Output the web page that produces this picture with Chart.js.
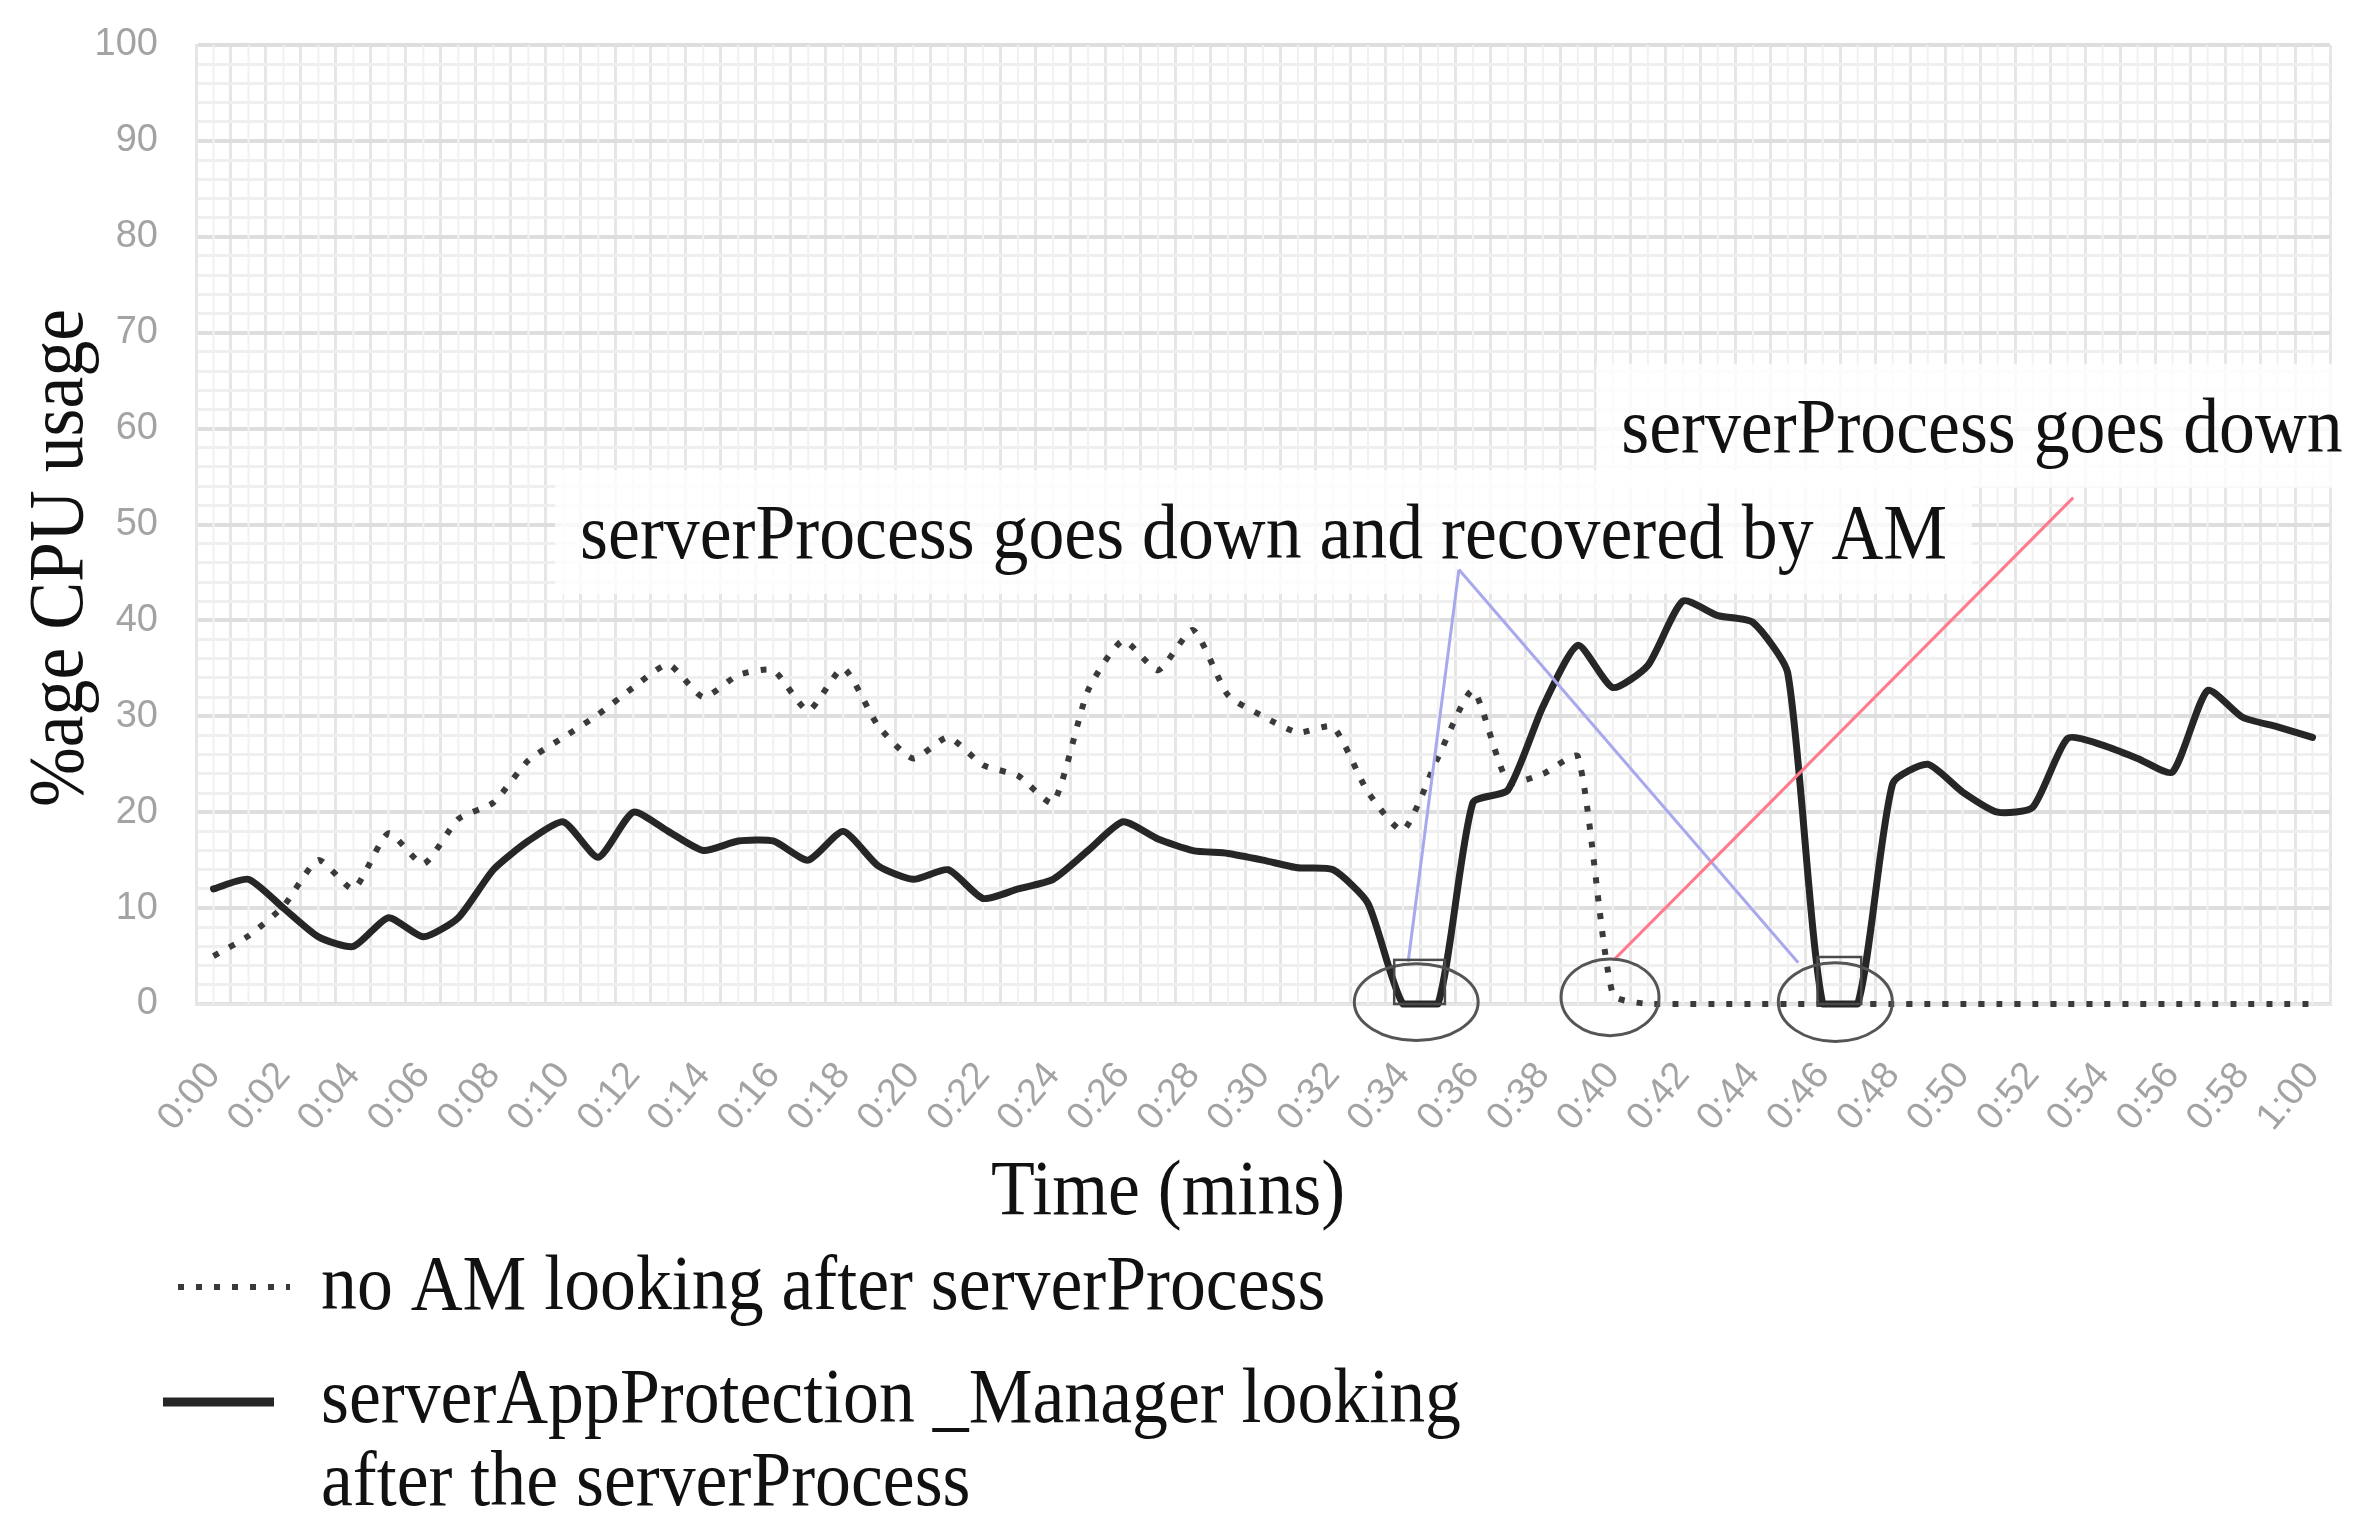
<!DOCTYPE html>
<html>
<head>
<meta charset="utf-8">
<script src="https://cdn.jsdelivr.net/npm/chart.js@4.4.0/dist/chart.umd.min.js"></script>
<style>
  html, body { margin: 0; padding: 0; background: #fff; overflow: hidden; }
  #wrap { width: 2364px; height: 1539px; position: relative; }
</style>
</head>
<body>
<div id="wrap"><canvas id="cpuChart"></canvas></div>
<script>
// ── DATA ──
const minutes = [
  '0:00','0:01','0:02','0:03','0:04','0:05','0:06','0:07','0:08','0:09',
  '0:10','0:11','0:12','0:13','0:14','0:15','0:16','0:17','0:18','0:19',
  '0:20','0:21','0:22','0:23','0:24','0:25','0:26','0:27','0:28','0:29',
  '0:30','0:31','0:32','0:33','0:34','0:35','0:36','0:37','0:38','0:39',
  '0:40','0:41','0:42','0:43','0:44','0:45','0:46','0:47','0:48','0:49',
  '0:50','0:51','0:52','0:53','0:54','0:55','0:56','0:57','0:58','0:59','1:00'
];

// serverAppProtection_Manager looking after the serverProcess (solid)
const amCpu = [
  12, 13, 10, 7, 6, 9, 7, 9, 14, 17,
  19, 15.3, 20, 18, 16, 17, 17, 15, 18, 14.4,
  13, 14, 11, 12, 13, 16, 19, 17.2, 16, 15.7,
  15, 14.2, 14, 10.5, 0, 0, 21, 22.3, 31, 37.4,
  33, 35.3, 42, 40.5, 39.8, 34.5, 0, 0, 23, 25,
  22.1, 20, 20.5, 27.7, 27, 25.6, 24.2, 32.7, 29.9, 28.9, 27.8
];

// no AM looking after serverProcess (dotted)
const noAmCpu = [
  5, 7.1, 10.2, 15, 12, 17.8, 14.6, 19.3, 21, 25.4,
  27.8, 30.2, 33, 35.4, 32, 34.3, 34.8, 30.6, 35, 29,
  25.6, 27.8, 24.9, 23.8, 21, 32.7, 37.9, 34.8, 39, 32.2,
  30, 28.3, 28.9, 22.1, 18.1, 25.7, 32.7, 23.2, 24, 25.8,
  1, 0, 0, 0, 0, 0, 0, 0, 0, 0,
  0, 0, 0, 0, 0, 0, 0, 0, 0, 0, 0
];

const yMin = 0, yMax = 100, yStep = 2, yLabelStep = 10;
const labelEvery = 2;

const xTitle = 'Time (mins)';
const yTitle = '%age CPU usage';
const legendNoAm = 'no AM looking after serverProcess';
const legendAm = ['serverAppProtection _Manager looking', 'after the serverProcess'];

// ── ANNOTATIONS (chart units: x = minute index, y = % CPU) ──
const notes = [
  { text: 'serverProcess goes down and recovered by AM', x: 10.48, y: 46.5 },
  { text: 'serverProcess goes down', x: 40.24, y: 57.6 }
];
const blueFrom = { x: 35.6, y: 45.3 };
const blueTo = [{ x: 34.15, y: 4.4 }, { x: 45.3, y: 4.3 }];
const redLine = [{ x: 40.03, y: 4.6 }, { x: 53.16, y: 52.8 }];
const rings = [
  { x: 34.38, y: 0.2, rx: 1.77, ry: 4.0 },
  { x: 39.92, y: 0.7, rx: 1.4, ry: 4.0 },
  { x: 46.36, y: 0.2, rx: 1.63, ry: 4.1 }
];
const boxes = [
  { x0: 33.75, x1: 35.2, y0: 0, y1: 4.6 },
  { x0: 45.85, x1: 47.1, y0: 0, y1: 4.9 }
];

// ── HELPERS ──
const SERIF = "'Liberation Serif', 'Times New Roman', serif";
const SQUEEZE = 0.92;

function squeezedText(ctx, str, x, y, align, rot) {
    ctx.save();
    ctx.translate(x, y);
    if (rot) ctx.rotate(rot);
    ctx.scale(SQUEEZE, 1);
    ctx.textAlign = align;
    ctx.textBaseline = 'alphabetic';
    ctx.fillText(str, 0, 0);
    ctx.restore();
}

const extras = {
    id: 'extras',
    beforeDatasetsDraw(chart) {
        // faint mid-category lines, graph paper look
        const { ctx, chartArea: a, scales: { x } } = chart;
        ctx.save();
        ctx.strokeStyle = '#f1f1f1';
        ctx.lineWidth = 2;
        minutes.forEach((m, i) => {
            const px = x.getPixelForValue(i);
            ctx.beginPath();
            ctx.moveTo(px, a.top);
            ctx.lineTo(px, a.bottom);
            ctx.stroke();
        });
        ctx.restore();
    },
    afterDatasetsDraw(chart) {
        const { ctx, scales: { x, y } } = chart;
        const P = p => [x.getPixelForValue(p.x), y.getPixelForValue(p.y)];
        const unitX = x.getPixelForValue(1) - x.getPixelForValue(0);
        const unitY = y.getPixelForValue(0) - y.getPixelForValue(1);

        ctx.save();
        ctx.font = '78px ' + SERIF;

        // text backdrops
        notes.forEach(n => {
            const [px, py] = P(n);
            const w = ctx.measureText(n.text).width * SQUEEZE;
            ctx.fillStyle = 'rgba(255,255,255,0.78)';
            ctx.fillRect(px - 25, py - 88, w + 50, 124);
        });

        // pointer lines
        ctx.lineWidth = 3;
        ctx.strokeStyle = 'rgb(168,168,236)';
        blueTo.forEach(t => {
            ctx.beginPath();
            ctx.moveTo(...P(blueFrom));
            ctx.lineTo(...P(t));
            ctx.stroke();
        });
        ctx.strokeStyle = 'rgb(255,122,140)';
        ctx.beginPath();
        ctx.moveTo(...P(redLine[0]));
        ctx.lineTo(...P(redLine[1]));
        ctx.stroke();

        // rings
        ctx.strokeStyle = '#555';
        ctx.lineWidth = 3;
        rings.forEach(r => {
            const [cx, cy] = P(r);
            ctx.beginPath();
            ctx.ellipse(cx, cy, r.rx * unitX, r.ry * unitY, 0, 0, Math.PI * 2);
            ctx.stroke();
        });

        // small boxes
        ctx.strokeStyle = '#4a4a4a';
        ctx.lineWidth = 2.5;
        boxes.forEach(b => {
            const [x0, y0] = P({ x: b.x0, y: b.y1 });
            const [x1, y1] = P({ x: b.x1, y: b.y0 });
            ctx.strokeRect(x0, y0, x1 - x0, y1 - y0);
        });

        // note text
        ctx.fillStyle = '#111';
        notes.forEach(n => {
            const [px, py] = P(n);
            squeezedText(ctx, n.text, px, py, 'left');
        });
        ctx.restore();
    },
    afterDraw(chart) {
        const { ctx } = chart;
        ctx.save();
        ctx.fillStyle = '#111';
        ctx.font = '78px ' + SERIF;

        // axis titles
        squeezedText(ctx, xTitle, 1168, 1214, 'center');
        squeezedText(ctx, yTitle, 82, 558, 'center', -Math.PI / 2);

        // legend
        squeezedText(ctx, legendNoAm, 321, 1309, 'left');
        squeezedText(ctx, legendAm[0], 321, 1422, 'left');
        squeezedText(ctx, legendAm[1], 321, 1505, 'left');

        ctx.strokeStyle = '#3a3a3a';
        ctx.lineWidth = 6;
        ctx.setLineDash([6, 12]);
        ctx.beginPath();
        ctx.moveTo(178, 1287);
        ctx.lineTo(290, 1287);
        ctx.stroke();

        ctx.setLineDash([]);
        ctx.strokeStyle = '#262626';
        ctx.lineWidth = 9;
        ctx.beginPath();
        ctx.moveTo(163, 1402);
        ctx.lineTo(274, 1402);
        ctx.stroke();
        ctx.restore();
    }
};

// ── CHART ──
const tickFont = { family: "'Liberation Sans', Arial, sans-serif", size: 38 };

new Chart(document.getElementById('cpuChart'), {
    type: 'line',
    data: {
        labels: minutes,
        datasets: [
            {
                label: legendAm.join(' '),
                data: amCpu,
                borderColor: '#262626',
                borderWidth: 7,
                pointRadius: 0,
                tension: 0.2,
                borderJoinStyle: 'round',
                borderCapStyle: 'round',
                clip: 12
            },
            {
                label: legendNoAm,
                data: noAmCpu,
                borderColor: '#3a3a3a',
                borderWidth: 6,
                borderDash: [6, 12],
                pointRadius: 0,
                tension: 0.2,
                clip: 12
            }
        ]
    },
    options: {
        responsive: true,
        maintainAspectRatio: false,
        animation: false,
        devicePixelRatio: 1,
        layout: { padding: { top: 45, right: 34, bottom: 0, left: 0 } },
        plugins: { legend: { display: false }, tooltip: { enabled: false } },
        scales: {
            x: {
                offset: true,
                grid: { offset: true, color: '#e6e6e6', lineWidth: 3, drawTicks: false },
                border: { color: '#e6e6e6', width: 3 },
                ticks: {
                    autoSkip: false,
                    minRotation: 50,
                    maxRotation: 50,
                    padding: 50,
                    color: '#a3a3a3',
                    font: tickFont,
                    callback: (v, i) => (i % labelEvery === 0 ? minutes[i] : '')
                },
                afterFit: s => {
                    s.height = 535;
                    s.paddingLeft = 0;
                    s.paddingRight = 0;
                }
            },
            y: {
                min: yMin,
                max: yMax,
                grid: {
                    drawTicks: false,
                    color: c => (c.tick && c.tick.value % yLabelStep === 0 ? '#dedede' : '#efefef'),
                    lineWidth: c => (c.tick && c.tick.value % yLabelStep === 0 ? 4 : 3)
                },
                border: { color: '#e6e6e6', width: 3 },
                ticks: {
                    stepSize: yStep,
                    autoSkip: false,
                    padding: 38,
                    color: '#a3a3a3',
                    font: tickFont,
                    callback: v => (v % yLabelStep === 0 ? v : '')
                },
                afterFit: s => {
                    s.width = 196;
                    s.paddingTop = 0;
                    s.paddingBottom = 0;
                }
            }
        }
    },
    plugins: [extras]
});
</script>
</body>
</html>
